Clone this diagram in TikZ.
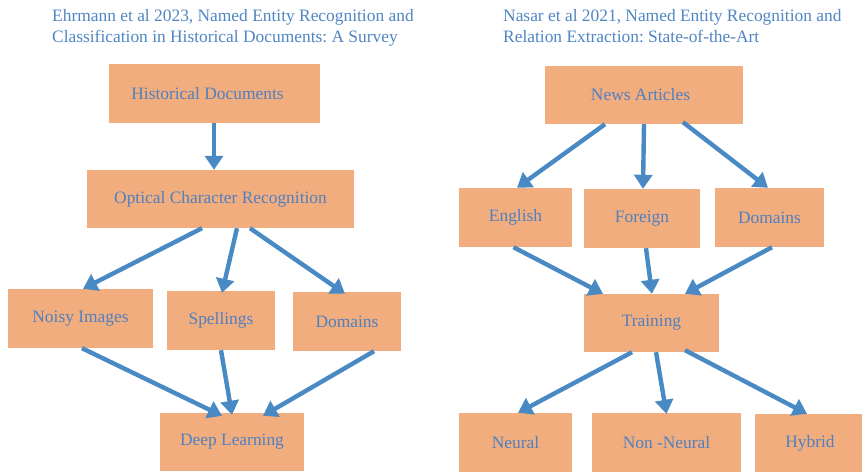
\documentclass[tikz,border=0pt]{standalone}
\usepackage{fontspec}
\setmainfont{Liberation Serif}
\usetikzlibrary{arrows.meta}
\frenchspacing
\definecolor{boxfill}{HTML}{F2AD7E}
\definecolor{linkblue}{HTML}{4A8AC4}
\definecolor{labelblue}{HTML}{4F80BF}
\definecolor{titleblue}{HTML}{4F86C3}
\tikzset{
  stepbox/.style={rectangle, fill=boxfill, draw=none, inner sep=0pt,
    text=labelblue, font=\fontsize{17.4}{20}\selectfont},
  link/.style={draw=linkblue, line width=4.4pt,
    -{Triangle[length=14pt,width=18pt]}},
  heading/.style={anchor=north west, align=left, inner sep=0pt,
    text=titleblue, font=\fontsize{17.4}{21}\selectfont}
}
\begin{document}
\begin{tikzpicture}[x=1pt,y=-1pt]
\clip (0,0) rectangle (862,472);
\fill[white] (0,0) rectangle (862,472);

% headings
\node[heading] (tl) at (52,9) {Ehrmann et al 2023, Named Entity Recognition and\\Classification in Historical Documents: A Survey};
\node[heading] (tr) at (503,9) {Nasar et al 2021, Named Entity Recognition and\\Relation Extraction: State-of-the-Art};

% left diagram
\node[stepbox, minimum width=211pt, minimum height=59pt] (hist) at (214.5,93.5) {Historical Documents\hspace*{14pt}};
\node[stepbox, minimum width=267pt, minimum height=58pt] (ocr) at (220.5,199) {Optical Character Recognition};
\node[stepbox, minimum width=145pt, minimum height=59pt] (noisy) at (80.5,318.5) {Noisy Images};
\node[stepbox, minimum width=108pt, minimum height=59pt] (spell) at (221,320.5) {Spellings};
\node[stepbox, minimum width=108pt, minimum height=59pt] (doml) at (347,321.5) {Domains};
\node[stepbox, minimum width=144pt, minimum height=58pt] (deep) at (232,442) {Deep Learning};

% right diagram
\node[stepbox, minimum width=198pt, minimum height=58pt] (news) at (644,95) {News Articles\hspace*{7pt}};
\node[stepbox, minimum width=113pt, minimum height=59pt] (eng) at (515.5,217.5) {English};
\node[stepbox, minimum width=116pt, minimum height=59pt] (for) at (642,218.5) {Foreign};
\node[stepbox, minimum width=109pt, minimum height=59pt] (domr) at (769.5,217.5) {Domains};
\node[stepbox, minimum width=135pt, minimum height=58pt] (train) at (651.5,323) {Training};
\node[stepbox, minimum width=113pt, minimum height=59pt] (neural) at (515.5,442.5) {Neural};
\node[stepbox, minimum width=149pt, minimum height=59pt] (nonneural) at (666.5,442.5) {Non -Neural};
\node[stepbox, minimum width=110pt, minimum height=58pt] (hybrid) at (810,443) {Hybrid};

% left connectors
\draw[link] ([xshift=-0.5pt]hist.south) -- ([xshift=-0.5pt]hist.south |- ocr.north);
\draw[link] ([xshift=-18.5pt]ocr.south) -- ([xshift=2.5pt]noisy.north);
\draw[link] ([xshift=16.5pt]ocr.south) -- ([xshift=1pt,yshift=-2pt]spell.north);
\draw[link] ([xshift=29.5pt]ocr.south) -- ([xshift=-2pt,yshift=-2pt]doml.north);
\draw[link] ([xshift=1.5pt]noisy.south) -- ([xshift=-10pt,yshift=-3pt]deep.north);
\draw[link] (spell.south) -- ([yshift=-2pt]deep.north);
\draw[link] ([xshift=27pt]doml.south) -- ([xshift=31pt,yshift=-3pt]deep.north);

% right connectors
\draw[link] ([xshift=-39pt]news.south) -- ([xshift=1.5pt]eng.north);
\draw[link] (news.south) -- ([xshift=1pt]for.north);
\draw[link] ([xshift=39pt,yshift=2pt]news.south) -- ([xshift=-1.5pt]domr.north);
\draw[link] ([xshift=-2pt]eng.south) -- ([xshift=-48.5pt]train.north);
\draw[link] ([xshift=4pt]for.south) -- ([xshift=0.5pt]train.north);
\draw[link] ([xshift=2.5pt]domr.south) -- ([xshift=33.5pt]train.north);
\draw[link] ([xshift=-19.5pt]train.south) -- ([xshift=2.5pt]neural.north);
\draw[link] ([xshift=4.5pt]train.south) -- ([yshift=-1pt]nonneural.north);
\draw[link] ([xshift=33.5pt,yshift=2pt]train.south) -- ([xshift=-3pt]hybrid.north);
\end{tikzpicture}
\end{document}
